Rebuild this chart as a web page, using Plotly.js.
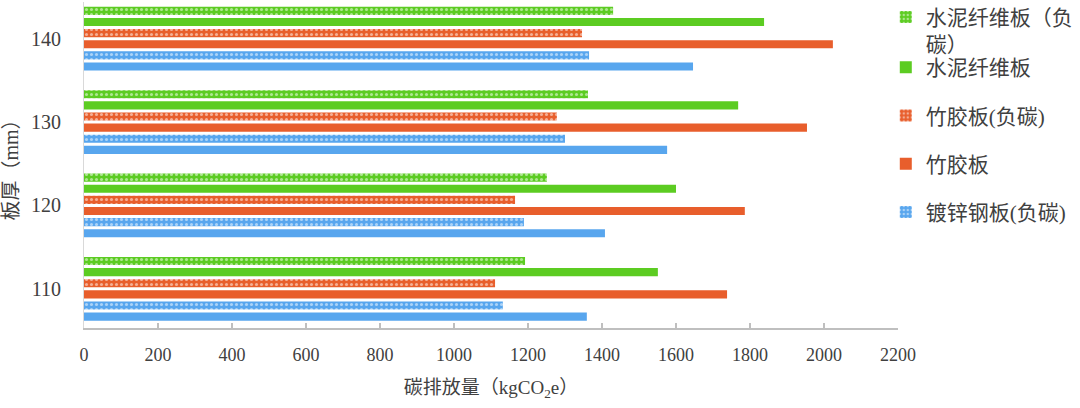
<!DOCTYPE html>
<html>
<head>
<meta charset="utf-8">
<script src="https://cdn.plot.ly/plotly-3.0.1.min.js"></script>
<style>html,body{margin:0;padding:0;background:#fff;}#chart{width:1080px;height:408px;}</style>
</head>
<body>
<div id="chart"></div>
<script>
const categories = ['110', '120', '130', '140'];
const steelValues = [1359, 1408, 1576, 1646];
const steelNegValues = [1132, 1189, 1300, 1365];
const bambooValues = [1738, 1786, 1954, 2024];
const bambooNegValues = [1111, 1165, 1278, 1346];
const cementValues = [1551, 1600, 1768, 1838];
const cementNegValues = [1192, 1251, 1362, 1430];
const seriesNames = ['镀锌钢板', '镀锌钢板(负碳)', '竹胶板', '竹胶板(负碳)', '水泥纤维板', '水泥纤维板（负<br>碳）'];
const xTicks = [0, 200, 400, 600, 800, 1000, 1200, 1400, 1600, 1800, 2000, 2200];

const BLUE = '#58a6ee', ORANGE = '#e85e2c', GREEN = '#5ccc22';

function solid(name, vals, color, show, grp, rank) {
  return {type: 'bar', orientation: 'h', name: name, y: categories, x: vals,
    marker: {color: color, line: {width: 0}}, showlegend: show, legendgroup: grp, legendrank: rank};
}
function patterned(name, vals, color, grp, rank) {
  return {type: 'bar', orientation: 'h', name: name, y: categories, x: vals,
    marker: {color: color, line: {width: 0},
      pattern: {shape: '.', fgcolor: '#ffffff', bgcolor: color, size: 5, solidity: 0.3, fillmode: 'overlay'}},
    legendgroup: grp, legendrank: rank};
}

const cementNegTrace = patterned(seriesNames[5], cementNegValues, GREEN, 'g6', 1);
cementNegTrace.legend = 'legend2';

const data = [
  solid(seriesNames[0], steelValues, BLUE, false, 'g1', 6),
  patterned(seriesNames[1], steelNegValues, BLUE, 'g2', 5),
  solid(seriesNames[2], bambooValues, ORANGE, true, 'g3', 4),
  patterned(seriesNames[3], bambooNegValues, ORANGE, 'g4', 3),
  solid(seriesNames[4], cementValues, GREEN, true, 'g5', 2),
  cementNegTrace
];

const FONT = '"Liberation Serif", "Noto Sans CJK SC", serif';
const legendFont = {family: FONT, size: 21, color: '#404040'};

const layout = {
  width: 1080, height: 408,
  margin: {l: 84, r: 182, t: 2, b: 80, autoexpand: false},
  paper_bgcolor: '#ffffff', plot_bgcolor: '#ffffff',
  barmode: 'group', bargap: 0.2, bargroupgap: 0.27,
  font: {family: FONT, color: '#404040', size: 18},
  xaxis: {
    range: [0, 2200], tickvals: xTicks, ticktext: xTicks.map(String),
    showgrid: false, zeroline: false, showline: true, linecolor: '#bfbfbf', linewidth: 1.5,
    ticks: 'inside', ticklen: 5, tickcolor: '#bfbfbf', tickwidth: 1.5,
    ticklabelstandoff: 10,
    tickfont: {family: FONT, size: 18, color: '#404040'},
    title: {text: '碳排放量（kgCO<sub>2</sub>e）', font: {family: FONT, size: 19, color: '#404040'}, standoff: 16}
  },
  yaxis: {
    type: 'category', range: [-0.47, 3.44],
    showgrid: false, zeroline: false, showline: true, linecolor: '#d9d9d9', linewidth: 1,
    ticks: '', ticklabelstandoff: 18,
    tickfont: {family: FONT, size: 20, color: '#404040'},
    title: {text: '板厚（mm）', font: {family: FONT, size: 20, color: '#404040'}, standoff: 8}
  },
  legend: {
    x: 0.985, xanchor: 'left', y: 0.862, yanchor: 'top',
    traceorder: 'grouped', tracegroupgap: 18, valign: 'top',
    font: legendFont, bgcolor: 'rgba(0,0,0,0)', itemwidth: 30, maxheight: 1
  },
  legend2: {
    x: 0.985, xanchor: 'left', y: 1.016, yanchor: 'top',
    valign: 'top', font: legendFont, bgcolor: 'rgba(0,0,0,0)', itemwidth: 30
  }
};

Plotly.newPlot('chart', data, layout, {displayModeBar: false, staticPlot: true});
</script>
</body>
</html>
